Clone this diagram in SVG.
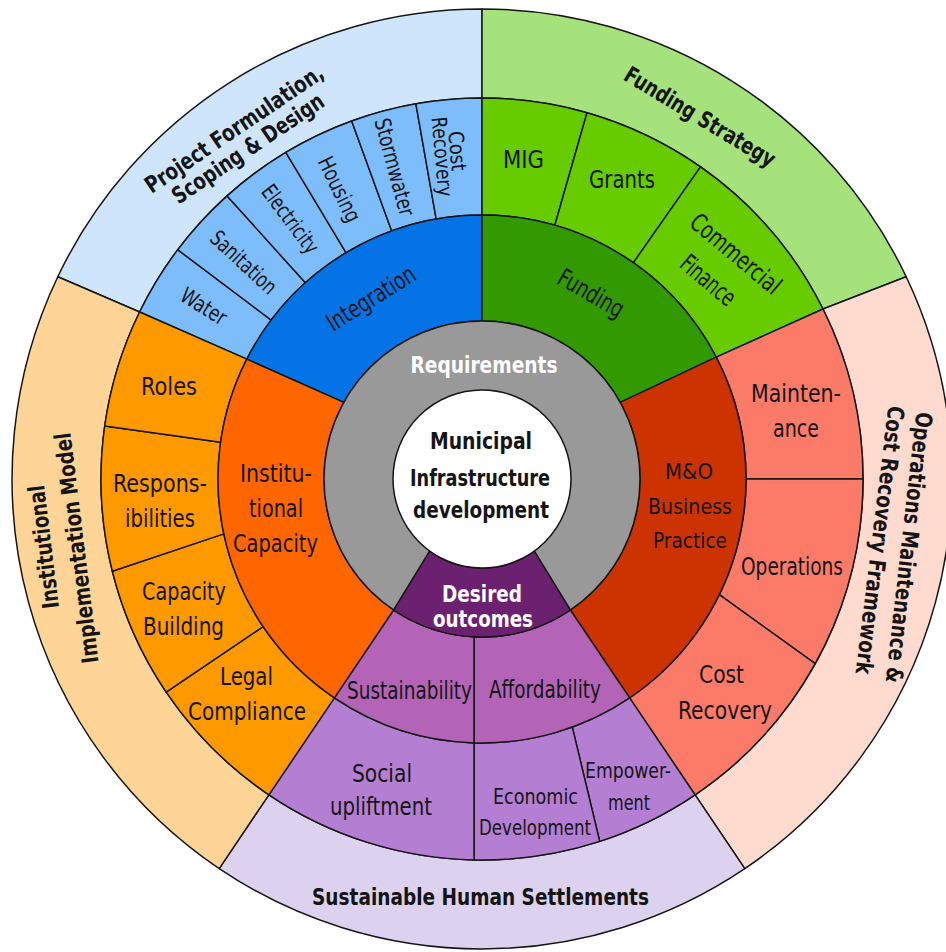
<svg xmlns="http://www.w3.org/2000/svg" width="946" height="952" viewBox="0 0 946 952">
<style>
.s{stroke:#151515;stroke-width:1.5;stroke-linejoin:round}
.t{font-family:"Liberation Sans Narrow","DejaVu Sans Condensed","Liberation Sans",Arial,sans-serif;font-size:25px;fill:#141414;text-anchor:middle}
.b{font-weight:bold;font-size:23px}
.w{fill:#ffffff}
.m{font-size:22px}
.sm{font-size:21px}
</style>
<rect x="0" y="0" width="946" height="952" fill="#ffffff"/>

<!-- outer ring -->
<g id="project-formulation">
<path class="s" fill="#cfe5fc" d="M57.8 276.7 A470 470 0 0 1 482 9 L482 98 A381 381 0 0 0 139.6 312 Z"/>
<text class="t b" transform="translate(235 130) rotate(-34)" y="6.5" textLength="210" lengthAdjust="spacingAndGlyphs">Project Formulation,</text>
<text class="t b" transform="translate(249 150) rotate(-34)" y="6" textLength="178" lengthAdjust="spacingAndGlyphs">Scoping &amp; Design</text>
</g>
<g id="funding-strategy">
<path class="s" fill="#a6e27c" d="M482 9 A470 470 0 0 1 906.2 276.7 L823 309 A381 381 0 0 0 482 98 Z"/>
<text class="t b" transform="translate(699 118.5) rotate(31)" y="6" textLength="172" lengthAdjust="spacingAndGlyphs">Funding Strategy</text>
</g>
<g id="operations-framework">
<path class="s" fill="#ffdacf" d="M906.2 276.7 A470 470 0 0 1 744.8 868.6 L695.1 794.8 A381 381 0 0 0 823 309 Z"/>
<text class="t b" transform="translate(908 547.5) rotate(96.5)" y="7" textLength="272" lengthAdjust="spacingAndGlyphs">Operations Maintenance &amp;</text>
<text class="t b" transform="translate(879 540) rotate(97)" y="7" textLength="270" lengthAdjust="spacingAndGlyphs">Cost Recovery Framework</text>
</g>
<g id="sustainable-settlements">
<path class="s" fill="#dcd2f0" d="M744.8 868.6 A470 470 0 0 1 219.2 868.6 L268.9 794.8 A381 381 0 0 0 695.1 794.8 Z"/>
<text class="t b" x="480.5" y="905" textLength="337" lengthAdjust="spacingAndGlyphs">Sustainable Human Settlements</text>
</g>
<g id="institutional-model">
<path class="s" fill="#fed596" d="M219.2 868.6 A470 470 0 0 1 57.8 276.7 L139.6 312 A381 381 0 0 0 268.9 794.8 Z"/>
<text class="t b" transform="translate(43 547) rotate(-97)" y="8.5" textLength="124" lengthAdjust="spacingAndGlyphs">Institutional</text>
<text class="t b" transform="translate(78 548) rotate(-97)" y="6.5" textLength="232" lengthAdjust="spacingAndGlyphs">Implementation Model</text>
</g>

<!-- middle ring: integration subs -->
<g id="water">
<path class="s" fill="#7dbdfb" d="M139.6 312 A381 381 0 0 1 177.7 249.7 L271.2 320.1 A264 264 0 0 0 246.8 359.1 Z"/>
<text class="t m" transform="translate(204 306) rotate(32)" y="8" textLength="50" lengthAdjust="spacingAndGlyphs">Water</text>
</g>
<g id="sanitation">
<path class="s" fill="#7dbdfb" d="M177.7 249.7 A381 381 0 0 1 227.1 195.9 L305.4 282.8 A264 264 0 0 0 271.2 320.1 Z"/>
<text class="t m" transform="translate(244 262) rotate(43)" y="8" textLength="82" lengthAdjust="spacingAndGlyphs">Sanitation</text>
</g>
<g id="electricity">
<path class="s" fill="#7dbdfb" d="M227.1 195.9 A381 381 0 0 1 285.8 152.4 L346 252.7 A264 264 0 0 0 305.4 282.8 Z"/>
<text class="t m" transform="translate(289 220) rotate(53)" y="6" textLength="80" lengthAdjust="spacingAndGlyphs">Electricity</text>
</g>
<g id="housing">
<path class="s" fill="#7dbdfb" d="M285.8 152.4 A381 381 0 0 1 351.7 121 L391.7 230.9 A264 264 0 0 0 346 252.7 Z"/>
<text class="t m" transform="translate(338 190) rotate(64)" y="6" textLength="70" lengthAdjust="spacingAndGlyphs">Housing</text>
</g>
<g id="stormwater">
<path class="s" fill="#7dbdfb" d="M351.7 121 A381 381 0 0 1 415.9 103.8 L436.2 219 A264 264 0 0 0 391.7 230.9 Z"/>
<text class="t m" transform="translate(395 167) rotate(75)" y="8" textLength="100" lengthAdjust="spacingAndGlyphs">Stormwater</text>
</g>
<g id="cost-recovery-integration">
<path class="s" fill="#7dbdfb" d="M415.9 103.8 A381 381 0 0 1 482 98 L482 215 A264 264 0 0 0 436.2 219 Z"/>
<text class="t sm" transform="translate(457 151) rotate(85)" y="7" textLength="40" lengthAdjust="spacingAndGlyphs">Cost</text>
<text class="t sm" transform="translate(440 157) rotate(85)" y="5" textLength="80" lengthAdjust="spacingAndGlyphs">Recovery</text>
</g>

<!-- funding subs -->
<g id="mig">
<path class="s" fill="#66cc00" d="M482 98 A381 381 0 0 1 587 112.7 L554.8 225.2 A264 264 0 0 0 482 215 Z"/>
<text class="t" x="523.5" y="168" textLength="41" lengthAdjust="spacingAndGlyphs">MIG</text>
</g>
<g id="grants">
<path class="s" fill="#66cc00" d="M587 112.7 A381 381 0 0 1 700.5 166.9 L633.4 262.7 A264 264 0 0 0 554.8 225.2 Z"/>
<text class="t" x="622" y="188" textLength="66" lengthAdjust="spacingAndGlyphs">Grants</text>
</g>
<g id="commercial-finance">
<path class="s" fill="#66cc00" d="M700.5 166.9 A381 381 0 0 1 823 309 L716.2 357.1 A264 264 0 0 0 633.4 262.7 Z"/>
<text class="t" transform="translate(736 253.5) rotate(40)" y="9" textLength="110" lengthAdjust="spacingAndGlyphs">Commercial</text>
<text class="t" transform="translate(708.5 280) rotate(40)" y="9" textLength="64" lengthAdjust="spacingAndGlyphs">Finance</text>
</g>

<!-- operations subs -->
<g id="maintenance">
<path class="s" fill="#fb7b68" d="M823 309 A381 381 0 0 1 863 479 L746 479 A264 264 0 0 0 716.2 357.1 Z"/>
<text class="t" x="796" y="402" textLength="90" lengthAdjust="spacingAndGlyphs">Mainten-</text>
<text class="t" x="796" y="437" textLength="46" lengthAdjust="spacingAndGlyphs">ance</text>
</g>
<g id="operations">
<path class="s" fill="#fb7b68" d="M863 479 A381 381 0 0 1 815.2 663.7 L719.3 594.7 A264 264 0 0 0 746 479 Z"/>
<text class="t" x="792" y="575" textLength="102" lengthAdjust="spacingAndGlyphs">Operations</text>
</g>
<g id="cost-recovery-ops">
<path class="s" fill="#fb7b68" d="M815.2 663.7 A381 381 0 0 1 695.1 794.8 L629.6 697.9 A264 264 0 0 0 719.3 594.7 Z"/>
<text class="t" x="721.5" y="683" textLength="45" lengthAdjust="spacingAndGlyphs">Cost</text>
<text class="t" x="725" y="719" textLength="94" lengthAdjust="spacingAndGlyphs">Recovery</text>
</g>

<!-- desired outcome subs -->
<g id="empowerment">
<path class="s" fill="#b47ed3" d="M695.1 794.8 A381 381 0 0 1 599.7 841.4 L572.3 727.1 A264 264 0 0 0 629.6 697.9 Z"/>
<text class="t sm" x="628" y="778" textLength="86" lengthAdjust="spacingAndGlyphs">Empower-</text>
<text class="t sm" x="629" y="810" textLength="42" lengthAdjust="spacingAndGlyphs">ment</text>
</g>
<g id="economic-development">
<path class="s" fill="#b47ed3" d="M599.7 841.4 A381 381 0 0 1 474 859.9 L474 742.9 A264 264 0 0 0 572.3 727.1 Z"/>
<text class="t sm" x="535.5" y="804" textLength="85" lengthAdjust="spacingAndGlyphs">Economic</text>
<text class="t sm" x="535" y="835" textLength="112" lengthAdjust="spacingAndGlyphs">Development</text>
</g>
<g id="social-upliftment">
<path class="s" fill="#b47ed3" d="M474 859.9 A381 381 0 0 1 268.9 794.8 L334.4 697.9 A264 264 0 0 0 474 742.9 Z"/>
<text class="t" x="382" y="782" textLength="60" lengthAdjust="spacingAndGlyphs">Social</text>
<text class="t" x="381" y="815" textLength="102" lengthAdjust="spacingAndGlyphs">upliftment</text>
</g>

<!-- institutional subs -->
<g id="legal-compliance">
<path class="s" fill="#ff9900" d="M268.9 794.8 A381 381 0 0 1 166.2 692.1 L263.1 626.6 A264 264 0 0 0 334.4 697.9 Z"/>
<text class="t" x="246.5" y="685" textLength="53" lengthAdjust="spacingAndGlyphs">Legal</text>
<text class="t" x="247" y="720" textLength="118" lengthAdjust="spacingAndGlyphs">Compliance</text>
</g>
<g id="capacity-building">
<path class="s" fill="#ff9900" d="M166.2 692.1 A381 381 0 0 1 112.3 571.2 L223.8 533.9 A264 264 0 0 0 263.1 626.6 Z"/>
<text class="t" x="184" y="600" textLength="84" lengthAdjust="spacingAndGlyphs">Capacity</text>
<text class="t" x="183.5" y="635" textLength="81" lengthAdjust="spacingAndGlyphs">Building</text>
</g>
<g id="responsibilities">
<path class="s" fill="#ff9900" d="M112.3 571.2 A381 381 0 0 1 104.7 426 L220.6 442.3 A264 264 0 0 0 223.8 533.9 Z"/>
<text class="t" x="160" y="492" textLength="94" lengthAdjust="spacingAndGlyphs">Respons-</text>
<text class="t" x="160" y="527" textLength="70" lengthAdjust="spacingAndGlyphs">ibilities</text>
</g>
<g id="roles">
<path class="s" fill="#ff9900" d="M104.7 426 A381 381 0 0 1 139.6 312 L246.8 359.1 A264 264 0 0 0 220.6 442.3 Z"/>
<text class="t" x="169" y="395" textLength="56" lengthAdjust="spacingAndGlyphs">Roles</text>
</g>

<!-- inner ring -->
<g id="integration">
<path class="s" fill="#0373e6" d="M246.8 359.1 A264 264 0 0 1 482 215 L482 321 A158 158 0 0 0 343.8 402.4 Z"/>
<text class="t" transform="translate(372 300) rotate(-32)" y="6.5" textLength="100" lengthAdjust="spacingAndGlyphs">Integration</text>
</g>
<g id="funding">
<path class="s" fill="#339900" d="M482 215 A264 264 0 0 1 716.2 357.1 L620.2 402.4 A158 158 0 0 0 482 321 Z"/>
<text class="t" transform="translate(590 295) rotate(30)" y="6.5" textLength="72" lengthAdjust="spacingAndGlyphs">Funding</text>
</g>
<g id="mo-business-practice">
<path class="s" fill="#cc3300" d="M716.2 357.1 A264 264 0 0 1 629.6 697.9 L570.4 610 A158 158 0 0 0 620.2 402.4 Z"/>
<text class="t m" x="689" y="479" textLength="48" lengthAdjust="spacingAndGlyphs">M&amp;O</text>
<text class="t m" x="690" y="514" textLength="84" lengthAdjust="spacingAndGlyphs">Business</text>
<text class="t m" x="690" y="548" textLength="74" lengthAdjust="spacingAndGlyphs">Practice</text>
</g>
<g id="affordability">
<path class="s" fill="#b464b6" d="M629.6 697.9 A264 264 0 0 1 474 742.9 L474 636.8 A158 158 0 0 0 570.4 610 Z"/>
<text class="t" x="545" y="698" font-size="24" textLength="112" lengthAdjust="spacingAndGlyphs">Affordability</text>
</g>
<g id="sustainability">
<path class="s" fill="#b464b6" d="M474 742.9 A264 264 0 0 1 334.4 697.9 L393.6 610 A158 158 0 0 0 474 636.8 Z"/>
<text class="t" x="409.5" y="699" font-size="23" textLength="125" lengthAdjust="spacingAndGlyphs">Sustainability</text>
</g>
<g id="institutional-capacity">
<path class="s" fill="#ff6600" d="M334.4 697.9 A264 264 0 0 1 246.8 359.1 L343.8 402.4 A158 158 0 0 0 393.6 610 Z"/>
<text class="t" x="276" y="482" textLength="72" lengthAdjust="spacingAndGlyphs">Institu-</text>
<text class="t" x="276" y="517" textLength="54" lengthAdjust="spacingAndGlyphs">tional</text>
<text class="t" x="275.5" y="552" textLength="85" lengthAdjust="spacingAndGlyphs">Capacity</text>
</g>

<!-- requirements ring -->
<g id="requirements">
<circle class="s" cx="482" cy="479" r="158" fill="#999999"/>
<text class="t b w" x="484" y="373" textLength="147" lengthAdjust="spacingAndGlyphs">Requirements</text>
</g>
<g id="desired-outcomes">
<path class="s" fill="#6b2070" d="M534.3 551 L570.4 610 A158 158 0 0 1 393.6 610 L429.7 551 A89 89 0 0 0 534.3 551 Z"/>
<text class="t b w" x="482" y="602" font-size="25" textLength="80" lengthAdjust="spacingAndGlyphs">Desired</text>
<text class="t b w" x="483" y="627" font-size="25" textLength="100" lengthAdjust="spacingAndGlyphs">outcomes</text>
</g>
<g id="municipal-infrastructure">
<circle class="s" cx="482" cy="479" r="89" fill="#ffffff"/>
<text class="t b" x="481" y="449" textLength="102" lengthAdjust="spacingAndGlyphs">Municipal</text>
<text class="t b" x="480" y="486" textLength="140" lengthAdjust="spacingAndGlyphs">Infrastructure</text>
<text class="t b" x="481" y="518" textLength="136" lengthAdjust="spacingAndGlyphs">development</text>
</g>
<g id="connectors"></g>
</svg>
